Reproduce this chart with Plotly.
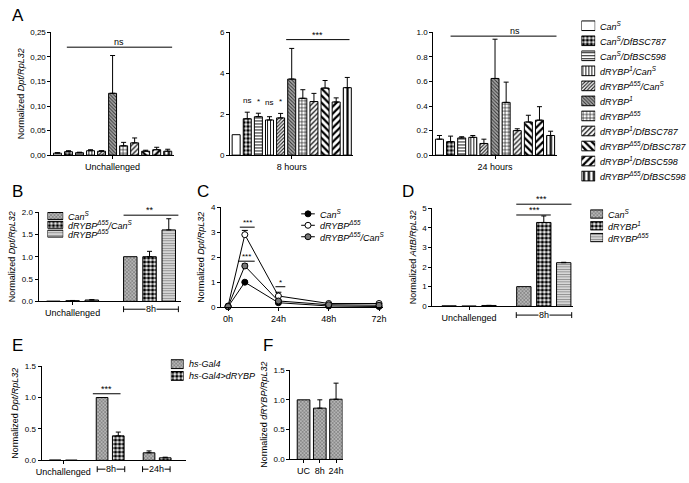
import plotly.graph_objects as go

W, H = 689, 483
FONT = "Liberation Sans"

# ---------------- data ----------------
genotypes_A = ["Can<sup>S</sup>", "Can<sup>S</sup>/DfBSC787", "Can<sup>S</sup>/DfBSC598",
               "dRYBP<sup>1</sup>/Can<sup>S</sup>", "dRYBP<sup>Δ55</sup>/Can<sup>S</sup>",
               "dRYBP<sup>1</sup>", "dRYBP<sup>Δ55</sup>", "dRYBP<sup>1</sup>/DfBSC787",
               "dRYBP<sup>Δ55</sup>/DfBSC787", "dRYBP<sup>1</sup>/DfBSC598",
               "dRYBP<sup>Δ55</sup>/DfBSC598"]
a_groups = ["Unchallenged", "8 hours", "24 hours"]
a_unch = [0.004, 0.007, 0.005, 0.009, 0.008, 0.126, 0.019, 0.025, 0.008, 0.011, 0.008]
a_unch_err = [0.001, 0.002, 0.001, 0.002, 0.001, 0.077, 0.007, 0.010, 0.002, 0.005, 0.004]
a_8h = [1.0, 1.78, 1.88, 1.72, 1.82, 3.72, 2.78, 2.62, 3.28, 2.60, 3.30]
a_8h_err = [0.0, 0.32, 0.17, 0.16, 0.22, 1.50, 0.42, 0.40, 0.37, 0.20, 0.50]
a_24h = [0.13, 0.11, 0.14, 0.145, 0.095, 0.625, 0.43, 0.20, 0.27, 0.285, 0.16]
a_24h_err = [0.03, 0.045, 0.01, 0.015, 0.035, 0.32, 0.165, 0.015, 0.055, 0.11, 0.035]
a1_ticks = [0, 0.05, 0.10, 0.15, 0.20, 0.25]
a1_ticktext = ["0,00", "0,05", "0,10", "0,15", "0,20", "0,25"]

b_groups = ["Unchallenged", "8h"]
b_genotypes = ["Can<sup>S</sup>", "dRYBP<sup>Δ55</sup>/Can<sup>S</sup>", "dRYBP<sup>Δ55</sup>"]
b_vals = [[0.003, 1.0], [0.015, 1.0], [0.03, 1.6]]
b_err = [[0, 0], [0.005, 0.12], [0.008, 0.25]]

c_times = [0, 8, 24, 48, 72]
c_tickvals = [0, 24, 48, 72]
c_ticktext = ["0h", "24h", "48h", "72h"]
c_series = ["Can<sup>S</sup>", "dRYBP<sup>Δ55</sup>", "dRYBP<sup>Δ55</sup>/Can<sup>S</sup>"]
c_vals = [[0.02, 1.0, 0.18, 0.05, 0.03],
          [0.05, 2.9, 0.45, 0.15, 0.15],
          [0.03, 1.65, 0.25, 0.10, 0.08]]
c_err = [[0, 0.04, 0.02, 0, 0],
         [0, 0.17, 0.15, 0.02, 0.02],
         [0, 0.08, 0.05, 0.01, 0.01]]

d_groups = ["Unchallenged", "8h"]
d_genotypes = ["Can<sup>S</sup>", "dRYBP<sup>1</sup>", "dRYBP<sup>Δ55</sup>"]
d_vals = [[0.02, 1.0], [0.01, 4.27], [0.04, 2.22]]
d_err = [[0, 0], [0, 0.33], [0.005, 0.02]]

e_groups = ["Unchallenged", "8h", "24h"]
e_genotypes = ["hs-Gal4", "hs-Gal4&gt;dRYBP"]
e_vals = [[0.005, 1.0, 0.12], [0.003, 0.39, 0.04]]
e_err = [[0, 0, 0.03], [0, 0.06, 0.01]]

f_cats = ["UC", "8h", "24h"]
f_vals = [1.0, 0.86, 1.01]
f_err = [0, 0.14, 0.27]

# ---------------- styles ----------------
# (bg, pattern shape, fg, size, solidity)
ST = {
    "white": ("white", "", "black", 4, 0.3),
    "check": ("white", ".", "black", 4, 0.6),
    "hline": ("white", "-", "black", 3, 0.3),
    "vline": ("white", "|", "black", 3, 0.3),
    "fslash": ("white", "/", "#222", 2.5, 0.45),
    "fbslash": ("#aaa", "\\", "#333", 2.5, 0.4),
    "grid": ("white", "+", "black", 3.5, 0.3),
    "mslash": ("white", "/", "black", 3.5, 0.35),
    "tbslash": ("white", "\\", "black", 5, 0.45),
    "tslash": ("white", "/", "black", 5, 0.45),
    "tvline": ("white", "|", "black", 5, 0.45),
    "grey": ("#b5b5b5", "x", "#555", 2.5, 0.3),
    "hgrey": ("#e6e6e6", "-", "#8a8a8a", 2.5, 0.45),
}
styles_A = ["white", "check", "hline", "vline", "fslash", "fbslash", "grid",
            "mslash", "tbslash", "tslash", "tvline"]
styles_B = ["grey", "check", "hgrey"]
styles_D = ["grey", "check", "hgrey"]
styles_E = ["grey", "check"]


def mk(name):
    bg, shape, fg, size, sol = ST[name]
    m = dict(color=bg, line=dict(color="black", width=1))
    if shape:
        m["pattern"] = dict(shape=shape, fgcolor=fg, bgcolor=bg, size=size,
                            solidity=sol, fillmode="replace")
    return m


def err(e):
    return dict(type="data", array=[e], arrayminus=[0], symmetric=False,
                color="black", thickness=1, width=2.5, visible=e > 0)


def xr(n):
    return "x" if n == 1 else f"x{n}"


def yr(n):
    return "y" if n == 1 else f"y{n}"


fig = go.Figure()
layout = {}
annotations = []
shapes = []
yinfo = {}

base_axis = dict(showline=True, linecolor="black", linewidth=1, ticks="outside",
                 ticklen=3, tickwidth=1, tickcolor="black", showgrid=False,
                 zeroline=False, tickfont=dict(size=8, family=FONT, color="black"))


def setax(n, xpx, ypx, xrange, yrange, xkw=None, ykw=None):
    xn = "xaxis" if n == 1 else f"xaxis{n}"
    yn = "yaxis" if n == 1 else f"yaxis{n}"
    xd = {**base_axis, "domain": [xpx[0] / W, xpx[1] / W], "range": xrange,
          "anchor": yr(n), "tickfont": dict(size=9, family=FONT, color="black")}
    xd.update(xkw or {})
    yd = {**base_axis, "domain": [1 - ypx[1] / H, 1 - ypx[0] / H], "range": yrange,
          "anchor": xr(n)}
    yd.update(ykw or {})
    layout[xn] = xd
    layout[yn] = yd
    yinfo[n] = (yd["domain"], yrange)


def ypaper(n, v):
    (d0, d1), (r0, r1) = yinfo[n]
    return d0 + (v - r0) / (r1 - r0) * (d1 - d0)


def hidden(n, xpx, ypx, xrange, yrange):
    xn = f"xaxis{n}"
    yn = f"yaxis{n}"
    layout[xn] = dict(visible=False, domain=[xpx[0] / W, xpx[1] / W], range=xrange,
                      anchor=yr(n), fixedrange=True)
    layout[yn] = dict(visible=False, domain=[1 - ypx[1] / H, 1 - ypx[0] / H],
                      range=yrange, anchor=xr(n), fixedrange=True)


def ytitle(t):
    return dict(title=dict(text=t, font=dict(size=9, family=FONT, color="black"),
                           standoff=4))


def sig(n, x0, x1, y, label, lx=None, size=9):
    yp = ypaper(n, y)
    shapes.append(dict(type="line", xref=xr(n), yref="paper", x0=x0, x1=x1, y0=yp, y1=yp,
                       line=dict(color="black", width=1)))
    annotations.append(dict(xref=xr(n), yref="paper", x=(x0 + x1) / 2 if lx is None else lx,
                            y=yp, text=label, showarrow=False, yanchor="bottom",
                            yshift=-2, font=dict(size=size, family=FONT, color="black")))


def label(n, x, y, text, size=8):
    annotations.append(dict(xref=xr(n), yref="paper", x=x, y=ypaper(n, y), text=text,
                            showarrow=False, yanchor="bottom",
                            font=dict(size=size, family=FONT, color="black")))


def bracket(n, x0, x1, ypx, text):
    yp = 1 - ypx / H
    shapes.append(dict(type="line", xref=xr(n), yref="paper", x0=x0, x1=x1, y0=yp, y1=yp,
                       line=dict(color="black", width=1)))
    for xx in (x0, x1):
        shapes.append(dict(type="line", xref=xr(n), yref="paper", x0=xx, x1=xx,
                           y0=yp - 3 / H, y1=yp + 3 / H, line=dict(color="black", width=1)))
    annotations.append(dict(xref=xr(n), yref="paper", x=(x0 + x1) / 2, y=yp, text=text,
                            showarrow=False, bgcolor="white", borderpad=0,
                            yanchor="middle", xanchor="center",
                            font=dict(size=9, family=FONT, color="black")))


def legend_text(n, y, text, size=9):
    annotations.append(dict(xref=xr(n), yref=yr(n), x=1, y=y, text=f"<i>{text}</i>",
                            xanchor="left", yanchor="middle", xshift=3, showarrow=False,
                            font=dict(size=size, family=FONT, color="black")))


# ================= Panel A =================
A_data = [(a_unch, a_unch_err), (a_8h, a_8h_err), (a_24h, a_24h_err)]
A_xpx = [(46, 170), (227, 352), (433, 558)]
A_yr = [[0, 0.25], [0, 6], [0, 1.0]]
for k, (vals, errs) in enumerate(A_data):
    n = k + 1
    for i, g in enumerate(genotypes_A):
        fig.add_trace(go.Bar(x=[i], y=[vals[i]], width=0.72, marker=mk(styles_A[i]),
                             error_y=err(errs[i]), xaxis=xr(n), yaxis=yr(n),
                             showlegend=False, name=g))
    if n == 1:
        ykw = dict(tickvals=a1_ticks, ticktext=a1_ticktext,
                   **ytitle("Normalized <i>Dpt/RpL32</i>"))
    elif n == 2:
        ykw = dict(tickvals=[0, 2, 4, 6])
    else:
        ykw = dict(tickvals=[0, 0.2, 0.4, 0.6, 0.8, 1.0], tickformat=".1f")
    setax(n, A_xpx[k], (29, 154), [-0.55, 10.55], A_yr[k],
          xkw=dict(tickvals=[5], ticktext=[a_groups[k]]), ykw=ykw)

sig(1, 0.85, 10.4, 0.22, "ns")
sig(2, 4.5, 10.2, 5.65, "***", lx=7.3)
label(2, 1, 2.35, "ns")
label(2, 2, 2.3, "*")
label(2, 3, 2.25, "ns")
label(2, 4, 2.3, "*")
sig(3, 1.0, 10.55, 0.97, "ns", lx=6.8)

# legend A
hidden(4, (583, 597), (14.5, 183), [0, 1], [10.5, -0.5])
for i, g in enumerate(genotypes_A):
    fig.add_trace(go.Bar(y=[i], x=[1], base=0, orientation="h", width=0.64,
                         marker=mk(styles_A[i]), xaxis="x4", yaxis="y4",
                         showlegend=False, hoverinfo="skip"))
    legend_text(4, i, g)

# ================= Panel B =================
for si, g in enumerate(b_genotypes):
    for gi in range(len(b_groups)):
        fig.add_trace(go.Bar(x=[gi * 4 + si], y=[b_vals[si][gi]], width=0.7,
                             marker=mk(styles_B[si]), error_y=err(b_err[si][gi]),
                             xaxis="x5", yaxis="y5", showlegend=False, name=g))
setax(5, (33, 177), (212, 303), [-0.77, 6.62], [0, 2.0],
      xkw=dict(tickvals=[1], ticktext=[b_groups[0]]),
      ykw=dict(tickvals=[0, 0.5, 1.0, 1.5, 2.0], tickformat=".1f",
               **ytitle("Normalized <i>Dpt/RpL32</i>")))
bracket(5, 3.65, 6.5, 311, b_groups[1])
sig(5, 3.65, 6.5, 1.93, "**", lx=5)

hidden(6, (42, 58), (211.5, 238.5), [0, 1], [2.5, -0.5])
for si, g in enumerate(b_genotypes):
    fig.add_trace(go.Bar(y=[si], x=[1], base=0, orientation="h", width=0.78,
                         marker=mk(styles_B[si]), xaxis="x6", yaxis="y6",
                         showlegend=False, hoverinfo="skip"))
    legend_text(6, si, g)

# ================= Panel C =================
c_markers = [dict(symbol="circle", color="black", size=6, line=dict(color="black", width=1)),
             dict(symbol="circle", color="white", size=6, line=dict(color="black", width=1)),
             dict(symbol="circle", color="#777", size=6, line=dict(color="black", width=1))]
for si, g in enumerate(c_series):
    fig.add_trace(go.Scatter(x=c_times, y=c_vals[si], mode="lines+markers",
                             line=dict(color="black", width=1), marker=c_markers[si],
                             error_y=dict(type="data", array=c_err[si],
                                          arrayminus=[0] * len(c_err[si]), symmetric=False,
                                          color="black", thickness=1, width=3),
                             xaxis="x7", yaxis="y7", showlegend=False, name=g,
                             cliponaxis=False))
setax(7, (218, 382), (207, 309), [-3.3, 73.9], [0, 4],
      xkw=dict(tickvals=c_tickvals, ticktext=c_ticktext),
      ykw=dict(tickvals=[0, 1, 2, 3, 4], **ytitle("Normalized <i>Dpt/RpL32</i>")))
sig(7, 5.6, 12.7, 3.2, "***", size=8)
sig(7, 4.7, 12.7, 1.84, "***", size=8)
sig(7, 22.6, 27.3, 0.82, "*", size=8)

hidden(8, (299, 313), (208, 243), [0, 1], [2.5, -0.5])
for si, g in enumerate(c_series):
    fig.add_trace(go.Scatter(x=[0, 1], y=[si, si], mode="lines",
                             line=dict(color="black", width=1), xaxis="x8", yaxis="y8",
                             showlegend=False, hoverinfo="skip"))
    fig.add_trace(go.Scatter(x=[0.5], y=[si], mode="markers", marker=c_markers[si],
                             xaxis="x8", yaxis="y8", showlegend=False, hoverinfo="skip"))
    legend_text(8, si, g)

# ================= Panel D =================
for si, g in enumerate(d_genotypes):
    for gi in range(len(d_groups)):
        fig.add_trace(go.Bar(x=[gi * 3.75 + si], y=[d_vals[si][gi]], width=0.72,
                             marker=mk(styles_D[si]), error_y=err(d_err[si][gi]),
                             xaxis="x9", yaxis="y9", showlegend=False, name=g))
setax(9, (432, 575), (208, 308), [-0.84, 6.24], [0, 5],
      xkw=dict(tickvals=[1], ticktext=[d_groups[0]]),
      ykw=dict(tickvals=[0, 1, 2, 3, 4, 5], **ytitle("Normalized <i>AttB/RpL32</i>")))
bracket(9, 3.37, 6.15, 317, d_groups[1])
sig(9, 3.37, 5.1, 4.65, "***", lx=4.26)
sig(9, 3.37, 6.14, 5.2, "***", lx=4.65)

hidden(10, (592, 605), (208, 244), [0, 1], [2.5, -0.5])
for si, g in enumerate(d_genotypes):
    fig.add_trace(go.Bar(y=[si], x=[1], base=0, orientation="h", width=0.7,
                         marker=mk(styles_D[si]), xaxis="x10", yaxis="y10",
                         showlegend=False, hoverinfo="skip"))
    legend_text(10, si, g)

# ================= Panel E =================
for si, g in enumerate(e_genotypes):
    for gi in range(len(e_groups)):
        fig.add_trace(go.Bar(x=[gi * 2.9 + si - 0.5], y=[e_vals[si][gi]], width=0.72,
                             marker=mk(styles_E[si]), error_y=err(e_err[si][gi]),
                             xaxis="x11", yaxis="y11", showlegend=False, name=g))
setax(11, (36, 182), (369, 465), [-1.34, 7.56], [0, 1.5],
      xkw=dict(tickvals=[0], ticktext=[e_groups[0]]),
      ykw=dict(tickvals=[0, 0.5, 1.0, 1.5], tickformat=".1f",
               **ytitle("Normalized <i>Dpt/RpL32</i>")))
bracket(11, 2.1, 3.8, 474, e_groups[1])
bracket(11, 4.9, 6.6, 474, e_groups[2])
sig(11, 1.83, 3.54, 1.06, "***", lx=2.7)

hidden(12, (167, 180), (361, 385), [0, 1], [1.5, -0.5])
for si, g in enumerate(e_genotypes):
    fig.add_trace(go.Bar(y=[si], x=[1], base=0, orientation="h", width=0.75,
                         marker=mk(styles_E[si]), xaxis="x12", yaxis="y12",
                         showlegend=False, hoverinfo="skip"))
    legend_text(12, si, g)

# ================= Panel F =================
for i, c in enumerate(f_cats):
    fig.add_trace(go.Bar(x=[i], y=[f_vals[i]], width=0.78, marker=mk("grey"),
                         error_y=err(f_err[i]), xaxis="x13", yaxis="y13",
                         showlegend=False, name=c))
setax(13, (288, 341), (373, 464), [-0.82, 2.4], [0, 1.5],
      xkw=dict(tickvals=[0, 1, 2], ticktext=f_cats),
      ykw=dict(tickvals=[0, 0.5, 1.0, 1.5], tickformat=".1f",
               **ytitle("Normalized <i>dRYBP/RpL32</i>")))

# panel letters
for t, px, py in [("A", 12, 12), ("B", 12, 191), ("C", 200, 191), ("D", 407, 191),
                  ("E", 12, 348), ("F", 265, 348)]:
    annotations.append(dict(xref="paper", yref="paper", x=px / W, y=1 - py / H, text=t,
                            showarrow=False, xanchor="center", yanchor="middle",
                            font=dict(size=17, family=FONT, color="black")))

fig.update_layout(**layout)
fig.update_layout(width=W, height=H, margin=dict(l=0, r=0, t=0, b=0),
                  paper_bgcolor="white", plot_bgcolor="white", barmode="overlay",
                  showlegend=False, annotations=annotations, shapes=shapes,
                  font=dict(family=FONT, color="black"))

fig.write_html("out.html", config={"displayModeBar": False},
               post_script="document.body.style.margin='0';")
